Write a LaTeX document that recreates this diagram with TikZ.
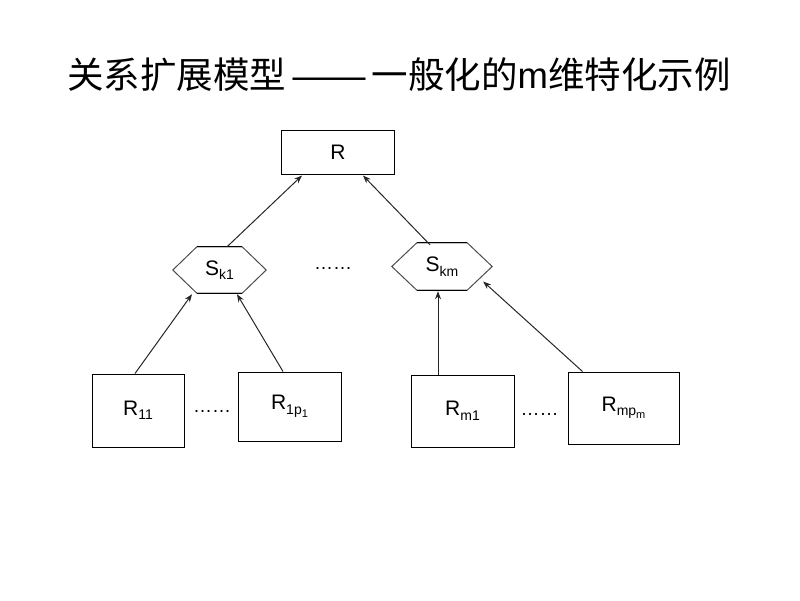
\documentclass[tikz,border=0pt]{standalone}
\usepackage{fontspec}
\setmainfont{Liberation Sans}
\newfontfamily\cjk{Noto Sans CJK SC}
\usetikzlibrary{calc,arrows.meta}
\newcommand{\lsub}[1]{\raisebox{-4.5pt}{\fontsize{14}{14}\selectfont #1}}
\newcommand{\lsubsub}[1]{\raisebox{-3pt}{\fontsize{11}{11}\selectfont #1}}
\tikzset{
  box/.style={draw=black, line width=1pt, inner sep=0pt, font=\fontsize{21}{24}\selectfont},
  hexnode/.style={inner sep=0pt, font=\fontsize{21}{24}\selectfont},
  hexline/.style={draw=black!70, line width=1pt},
  conn/.style={draw=black!85, line width=1pt, -{Stealth[length=8pt,width=6pt]}},
  dots/.style={inner sep=0pt, font=\fontsize{19}{20}\selectfont},
}
\begin{document}
\begin{tikzpicture}[x=1pt,y=-1pt]
\useasboundingbox (0,0) rectangle (800,600);
% title
\node (title) at (399,75) {\fontsize{36.5}{40}\selectfont\cjk 关系扩展模型\,\normalfont\fontsize{36.5}{40}\selectfont——\,\cjk 一般化的\normalfont\fontsize{36.5}{40}\selectfont m\cjk 维特化示例};
% top R
\node[box, minimum width=113pt, minimum height=44pt] (R) at (338,152) {R};
% hexagons
\node[hexnode, minimum width=93pt, minimum height=46pt] (sk1) at (219.5,270) {S\lsub{k1}};
\node[hexnode, minimum width=100pt, minimum height=47pt] (skm) at (442,266.5) {S\lsub{km}};
\draw[hexline] (sk1.west) -- ($(sk1.north west)+(24,0)$) -- ($(sk1.north east)+(-24,0)$) -- (sk1.east)
  -- ($(sk1.south east)+(-24,0)$) -- ($(sk1.south west)+(24,0)$) -- cycle;
\draw[hexline] (skm.west) -- ($(skm.north west)+(25,0)$) -- ($(skm.north east)+(-25,0)$) -- (skm.east)
  -- ($(skm.south east)+(-25,0)$) -- ($(skm.south west)+(25,0)$) -- cycle;
\draw[black, line width=1.2pt] ($(sk1.north west)+(24,0)$) -- ($(sk1.north east)+(-24,0)$);
\draw[black, line width=1.2pt] ($(sk1.south west)+(24,0)$) -- ($(sk1.south east)+(-24,0)$);
\draw[black, line width=1.2pt] ($(skm.north west)+(25,0)$) -- ($(skm.north east)+(-25,0)$);
\draw[black, line width=1.2pt] ($(skm.south west)+(25,0)$) -- ($(skm.south east)+(-25,0)$);
\node[dots] (d1) at (333,268) {……};
% bottom boxes
\node[box, minimum width=92pt, minimum height=73pt] (r11) at (138,410.5) {R\lsub{11}};
\node[box, minimum width=103pt, minimum height=69pt] (r1p) at (289.5,406.5) {R\lsub{1p\lsubsub{1}}};
\node[box, minimum width=103pt, minimum height=72pt] (rm1) at (462.5,411) {R\lsub{m1}};
\node[box, minimum width=111pt, minimum height=72pt] (rmp) at (623.5,408) {R\lsub{mp\lsubsub{m}}};
\node[dots] (d2) at (212,411) {……};
\node[dots] (d3) at (539.5,414) {……};
% connectors
\draw[conn] ($(sk1.north)+(7.5,0)$) -- ($(R.south west)+(21,1)$);
\draw[conn] ($(skm.north)+(-12,2)$) -- ($(R.south)+(25,1)$);
\draw[conn] ($(r11.north)+(-3,0)$) -- ($(sk1.south)+(-27.5,1)$);
\draw[conn] ($(r1p.north)+(-6.5,0)$) -- ($(sk1.south)+(17.5,1)$);
\draw[conn] ($(rm1.north)+(-24.5,0)$) -- ($(skm.south)+(-4,1)$);
\draw[conn] ($(rmp.north west)+(15,0)$) -- ($(skm.east)+(-9,15)$);
\end{tikzpicture}
\end{document}
